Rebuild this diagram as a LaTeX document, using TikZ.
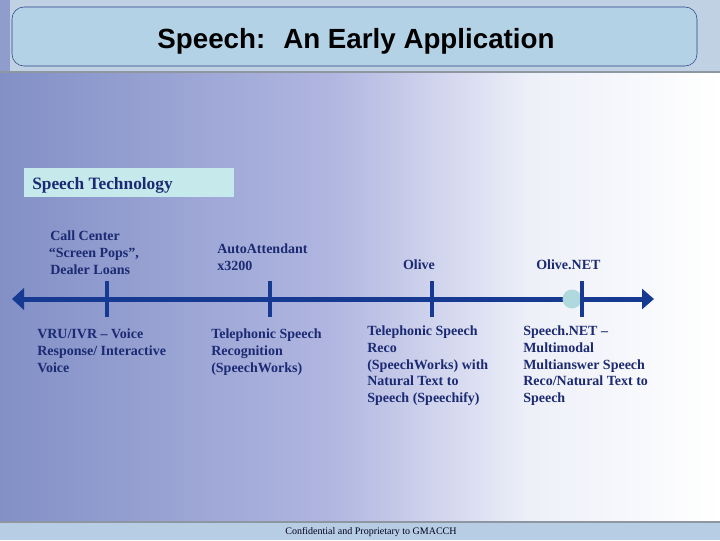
\documentclass[tikz,border=0pt]{standalone}
\usepackage{fontspec}
\setmainfont{Liberation Serif}
\newfontfamily\headfont{Liberation Sans}
\usetikzlibrary{arrows.meta}
\usetikzlibrary{positioning}

\definecolor{lineblue}{HTML}{163A92}
\definecolor{textblue}{HTML}{1B2A72}
\definecolor{bandblue}{HTML}{BFD1E2}
\definecolor{bandedge}{HTML}{8E96A2}
\definecolor{titlefill}{HTML}{B4D2E6}
\definecolor{titleedge}{HTML}{2C4286}
\definecolor{techfill}{HTML}{C6EAEC}
\definecolor{dotfill}{HTML}{AFD9DC}
\definecolor{footfill}{HTML}{B7CDE4}
\definecolor{bgleft}{HTML}{8290C6}
\definecolor{bgmid}{HTML}{B0B6E0}
\definecolor{bgright}{HTML}{EEF0F9}
\pgfdeclarehorizontalshading{slidebg}{100bp}{color(0bp)=(bgleft); color(25bp)=(bgleft); color(48bp)=(bgmid); color(62bp)=(bgright); color(75bp)=(white); color(100bp)=(white)}

\tikzset{
  evtlabel/.style={anchor=north west, inner sep=0pt, align=left, text=textblue,
    font=\bfseries\fontsize{10.5}{12.4}\selectfont},
  tickmark/.style={draw=lineblue, line width=3pt},
}

\begin{document}
\begin{tikzpicture}[x=0.75pt,y=0.75pt,yscale=-1,xscale=1]
\useasboundingbox (0,0) rectangle (720,540);
%Background
\shade [shading=slidebg] (0,72) rectangle (720,522);
\fill [bandblue] (0,0) rectangle (720,72);
\fill [bgleft!80!bandblue] (0,0) rectangle (10,72);
\draw [bandedge, line width=1.2pt] (0,72) -- (720,72);
\fill [footfill] (0,522) rectangle (720,540);
\draw [bandedge, line width=1pt] (0,522) -- (720,522);
%Rounded Rect
\draw [draw=titleedge, fill=titlefill, rounded corners=9] (12,7) rectangle (697,66);
% Text Node
\node (title) at (356,41) [inner sep=0pt, font=\headfont\bfseries\fontsize{20.8}{25}\selectfont] {Speech:~ An Early Application};
%Shape: Rectangle
\node (tech) at (24,168) [anchor=north west, fill=techfill, minimum width=157.5pt, minimum height=21.75pt, inner sep=0pt] {};
\node (techtext) at (32,189) [anchor=base west, inner sep=0pt, text=textblue, font=\bfseries\fontsize{13}{15}\selectfont] {Speech Technology};
%Timeline
\coordinate (tlL) at (12,299);
\coordinate (tlR) at (654,299);
\draw [lineblue, line width=3.75pt, {Triangle[length=9pt,width=16pt]}-{Triangle[length=9pt,width=15pt]}] (tlL) -- (tlR);
\fill [dotfill] (572,299) circle [radius=9.5];
%Ticks
\draw [tickmark] (107,281) coordinate (tk1a) -- (107,317) coordinate (tk1b);
\draw [tickmark] (270,281) coordinate (tk2a) -- (270,317) coordinate (tk2b);
\draw [tickmark] (432,281) coordinate (tk3a) -- (432,317) coordinate (tk3b);
\draw [tickmark] (582,281) coordinate (tk4a) -- (582,317) coordinate (tk4b);
% Text Node
\node (callc) at (50,231) [evtlabel] {Call Center\\\hspace*{-1pt}“Screen Pops”,\\Dealer Loans};
% Text Node
\node (auto) at (217,244) [evtlabel] {AutoAttendant\\x3200};
% Text Node
\node (olive) at (419,260) [evtlabel, anchor=north] {Olive};
% Text Node
\node (olivenet) at (536,260) [evtlabel] {Olive.NET};
% Text Node
\node (vru) at (37,329) [evtlabel] {VRU/IVR – Voice\\Response/ Interactive\\Voice};
% Text Node
\node (tsr) at (211,329) [evtlabel] {Telephonic Speech\\Recognition\\(SpeechWorks)};
% Text Node
\node (tsrnt) at (367,326) [evtlabel] {Telephonic Speech\\Reco\\(SpeechWorks) with\\Natural Text to\\Speech (Speechify)};
% Text Node
\node (snet) at (523,326) [evtlabel] {Speech.NET –\\Multimodal\\Multianswer Speech\\Reco/Natural Text to\\Speech};
% Text Node
\node (foot) at (371,532) [inner sep=0pt, text=black!90!blue, font=\fontsize{7.5}{9}\selectfont] {Confidential and Proprietary to GMACCH};
\end{tikzpicture}
\end{document}
